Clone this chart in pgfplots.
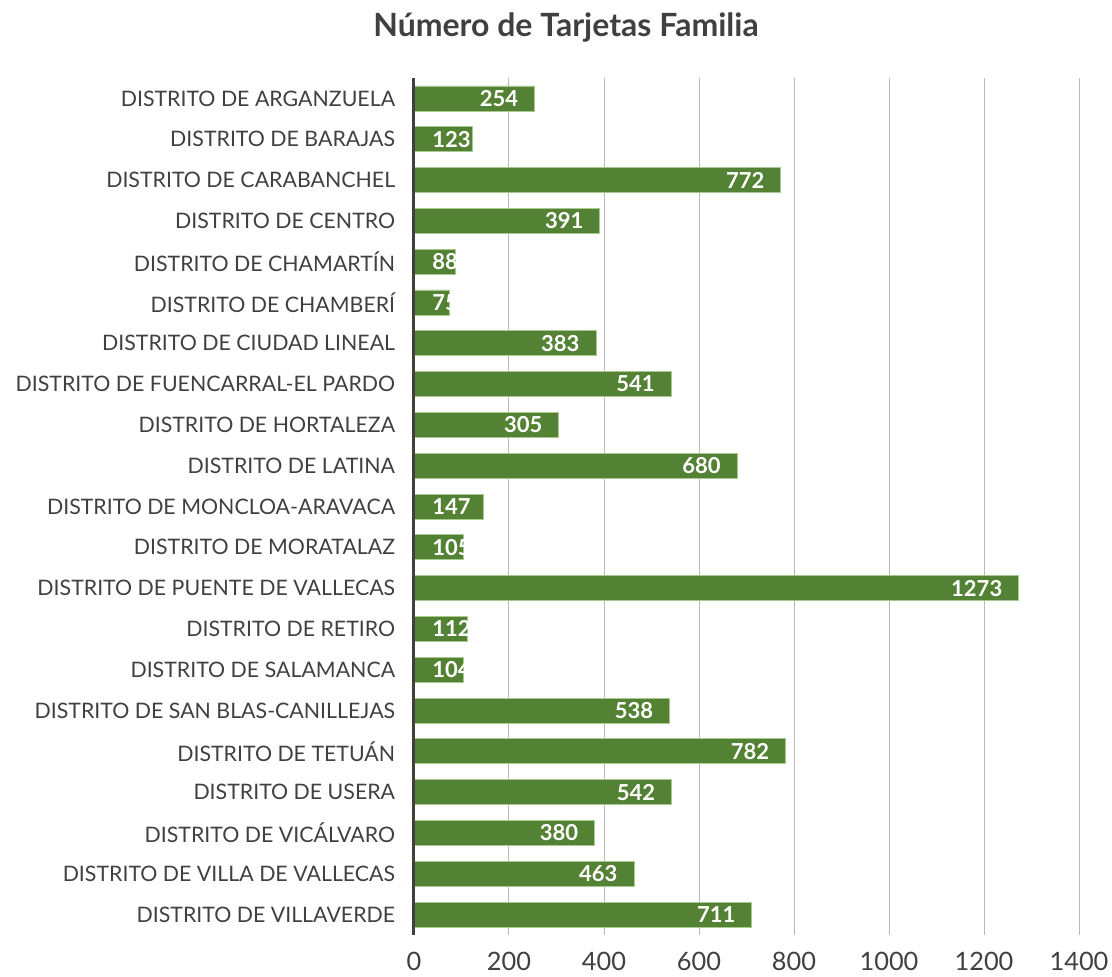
\documentclass[border=0pt]{standalone}
\usepackage{pgfplots}
\pgfplotsset{compat=1.18}
\usepackage{pgfplotstable}
\usepackage{fontspec}
\setmainfont{Lato}
\definecolor{barg}{HTML}{548235}
\definecolor{bare}{HTML}{A9C98F}
\definecolor{txt}{HTML}{404040}
\pgfplotstableread{
y v
0 254
1 123
2 772
3 391
4 88
5 75
6 383
7 541
8 305
9 680
10 147
11 105
12 1273
13 112
14 104
15 538
16 782
17 542
18 380
19 463
20 711
}\data
\pgfplotstableread{
y lx v
0 220 254
2 738 772
3 357 391
6 349 383
7 507 541
8 271 305
9 646 680
12 1239 1273
15 504 538
16 748 782
17 508 542
18 346 380
19 429 463
20 677 711
}\biglab
\pgfplotstableread{
y lx v
1 38 123
4 38 88
5 38 75
10 38 147
11 38 105
13 38 112
14 38 104
}\smalllab
\begin{document}
\begin{tikzpicture}
\begin{axis}[
  scale only axis, width=498.75pt, height=642.75pt,
  xmin=0, xmax=1400, ymin=-0.5, ymax=20.5, y dir=reverse,
  xtick={0,200,...,1400}, ytick={0,...,20},
  yticklabels={DISTRITO DE ARGANZUELA,DISTRITO DE BARAJAS,DISTRITO DE CARABANCHEL,DISTRITO DE CENTRO,DISTRITO DE CHAMARTÍN,DISTRITO DE CHAMBERÍ,DISTRITO DE CIUDAD LINEAL,DISTRITO DE FUENCARRAL-EL PARDO,DISTRITO DE HORTALEZA,DISTRITO DE LATINA,DISTRITO DE MONCLOA-ARAVACA,DISTRITO DE MORATALAZ,DISTRITO DE PUENTE DE VALLECAS,DISTRITO DE RETIRO,DISTRITO DE SALAMANCA,DISTRITO DE SAN BLAS-CANILLEJAS,DISTRITO DE TETUÁN,DISTRITO DE USERA,DISTRITO DE VICÁLVARO,DISTRITO DE VILLA DE VALLECAS,DISTRITO DE VILLAVERDE},
  xmajorgrids, major grid style={draw=gray!55, line width=0.75pt},
  axis line style={draw=none}, major tick length=0pt, tick style={draw=none},
  /pgf/number format/assume math mode=true,
  /pgf/number format/1000 sep={},
  xticklabel style={font=\fontsize{19}{23}\selectfont, text=txt, inner sep=0pt, yshift=-13pt, anchor=north},
  yticklabel style={font=\fontsize{16}{19}\selectfont, text=txt, inner sep=0pt, xshift=-14pt, anchor=east},
  clip=false,
]
\addplot[xbar, bar width=18.75pt, fill=barg, draw=bare, line width=0.6pt] table[x=v, y=y] {\data};
\addplot[draw=none, mark=none, nodes near coords, point meta=explicit symbolic,
  nodes near coords style={anchor=east, inner sep=0pt, text=white, font=\bfseries\fontsize{16.5}{20}\selectfont}]
  table[x=lx, y=y, meta=v] {\biglab};
\addplot[draw=none, mark=none, nodes near coords, point meta=explicit symbolic,
  nodes near coords style={anchor=west, inner sep=0pt, text=white, font=\bfseries\fontsize{16.5}{20}\selectfont}]
  table[x=lx, y=y, meta=v] {\smalllab};
\draw[txt, line width=2.25pt] (axis cs:0,-0.5) -- (axis cs:0,20.5);
\end{axis}
\node[font=\bfseries\fontsize{24}{28}\selectfont, text=txt] at (114pt,681pt) {Número de Tarjetas Familia};
\pgfresetboundingbox
\useasboundingbox (-310.5pt,-30.75pt) rectangle (523.5pt,701.25pt);
\end{tikzpicture}
\end{document}
